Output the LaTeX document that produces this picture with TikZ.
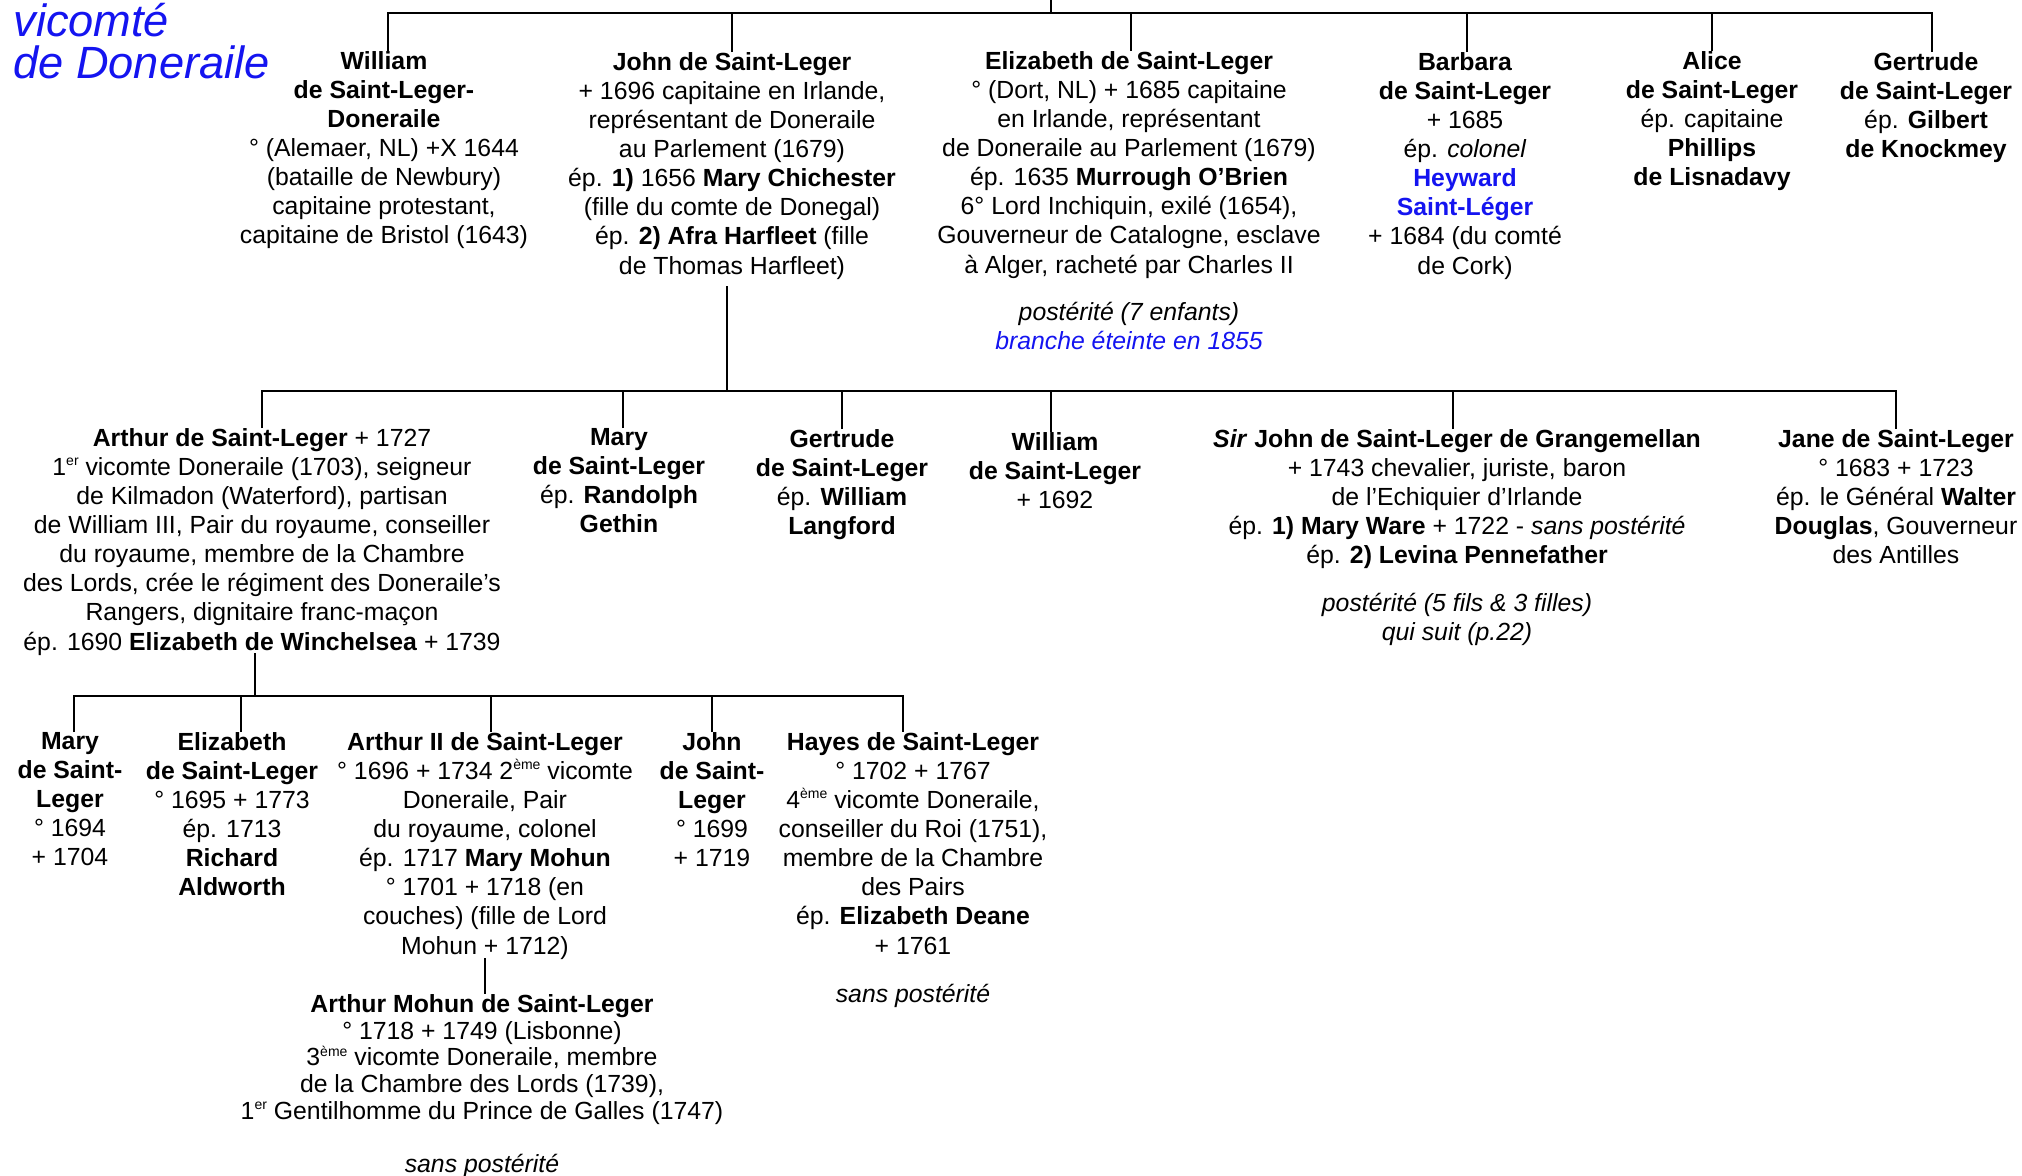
\documentclass[tikz,border=0pt]{standalone}
\usepackage{fontspec}
\setmainfont{Liberation Sans}
\definecolor{tblue}{RGB}{20,20,240}
\newcommand\pfont{\fontsize{12.4pt}{14.55pt}\selectfont}
\newcommand\mfont{\fontsize{12.4pt}{13.4pt}\selectfont}
\newcommand\tfont{\fontsize{22.6pt}{21.5pt}\selectfont\itshape}
\newcommand\sups[1]{\raisebox{0.75ex}{\fontsize{7pt}{7pt}\selectfont #1}}
\begin{document}
\begin{tikzpicture}[x=0.5pt,y=-0.5pt,
  pers/.style={align=center,inner sep=0pt,anchor=north,font=\pfont,execute at begin node=\strut},
  mpers/.style={align=center,inner sep=0pt,anchor=north,font=\mfont,execute at begin node=\strut},
  note/.style={pers,font=\pfont\itshape},
  link/.style={line width=1pt,black},
  ttl/.style={inner sep=0pt,anchor=base west,font=\tfont,text=tblue}]
\useasboundingbox (0,0) rectangle (2022,1175);

% title
\node[ttl] (t1) at (13,36) {vicomté};
\node[ttl] (t2) at (13,78) {de Doneraile};

% ---------- row 1 ----------
\node[pers] (w1) at (384,51) {\textbf{William}\\\textbf{de Saint-Leger-}\\\textbf{Doneraile}\\° (Alemaer, NL) +X 1644\\(bataille de Newbury)\\capitaine protestant,\\capitaine de Bristol (1643)};
\node[pers] (j1) at (732,52) {\textbf{John de Saint-Leger}\\+ 1696 capitaine en Irlande,\\représentant de Doneraile\\au Parlement (1679)\\ép. \textbf{1)} 1656 \textbf{Mary Chichester}\\(fille du comte de Donegal)\\ép. \textbf{2) Afra Harfleet} (fille\\de Thomas Harfleet)};
\node[pers] (e1) at (1129,51) {\textbf{Elizabeth de Saint-Leger}\\° (Dort, NL) + 1685 capitaine\\en Irlande, représentant\\de Doneraile au Parlement (1679)\\ép. 1635 \textbf{Murrough O’Brien}\\6° Lord Inchiquin, exilé (1654),\\Gouverneur de Catalogne, esclave\\à Alger, racheté par Charles II};
\node[note] (e1n) at (1129,302) {postérité (7 enfants)\\\textcolor{tblue}{branche éteinte en 1855}};
\node[pers] (bb1) at (1465,52) {\textbf{Barbara}\\\textbf{de Saint-Leger}\\+ 1685\\ép. \textit{colonel}\\\textcolor{tblue}{\textbf{Heyward}}\\\textcolor{tblue}{\textbf{Saint-Léger}}\\+ 1684 (du comté\\de Cork)};
\node[pers] (a1) at (1712,51) {\textbf{Alice}\\\textbf{de Saint-Leger}\\ép. capitaine\\\textbf{Phillips}\\\textbf{de Lisnadavy}};
\node[pers] (g1) at (1926,52) {\textbf{Gertrude}\\\textbf{de Saint-Leger}\\ép. \textbf{Gilbert}\\\textbf{de Knockmey}};

\coordinate (bar1) at (0,13);
\coordinate (topc) at (1051,0);
\draw[link] (topc) -- (topc |- bar1);
\draw[link] ([xshift=2pt]w1.north) -- ([xshift=2pt]w1.north |- bar1) -- ([xshift=3pt]g1.north |- bar1) -- ([xshift=3pt]g1.north);
\draw[link] (j1.north) -- (j1.north |- bar1);
\draw[link] ([xshift=1pt]e1.north) -- ([xshift=1pt]e1.north |- bar1);
\draw[link] ([xshift=1pt]bb1.north) -- ([xshift=1pt]bb1.north |- bar1);
\draw[link] (a1.north) -- (a1.north |- bar1);

% ---------- row 2 ----------
\node[pers] (ar2) at (262,428) {\textbf{Arthur de Saint-Leger} + 1727\\1\sups{er} vicomte Doneraile (1703), seigneur\\de Kilmadon (Waterford), partisan\\de William III, Pair du royaume, conseiller\\du royaume, membre de la Chambre\\des Lords, crée le régiment des Doneraile’s\\Rangers, dignitaire franc-maçon\\ép. 1690 \textbf{Elizabeth de Winchelsea} + 1739};
\node[pers] (m2) at (619,428) {\textbf{Mary}\\\textbf{de Saint-Leger}\\ép. \textbf{Randolph}\\\textbf{Gethin}};
\node[pers] (g2) at (842,429) {\textbf{Gertrude}\\\textbf{de Saint-Leger}\\ép. \textbf{William}\\\textbf{Langford}};
\node[pers] (w2) at (1055,432) {\textbf{William}\\\textbf{de Saint-Leger}\\+ 1692};
\node[pers] (s2) at (1457,429) {\textbf{\textit{Sir} John de Saint-Leger de Grangemellan}\\+ 1743 chevalier, juriste, baron\\de l’Echiquier d’Irlande\\ép. \textbf{1) Mary Ware} + 1722 - \textit{sans postérité}\\ép. \textbf{2) Levina Pennefather}};
\node[note] (s2n) at (1457,593) {postérité (5 fils \& 3 filles)\\qui suit (p.22)};
\node[pers] (ja2) at (1896,429) {\textbf{Jane de Saint-Leger}\\° 1683 + 1723\\ép. le Général \textbf{Walter}\\\textbf{Douglas}, Gouverneur\\des Antilles};

\coordinate (bar2) at (0,391);
\coordinate (jd) at (727,286);
\draw[link] (jd) -- (jd |- bar2);
\draw[link] (ar2.north) -- (ar2.north |- bar2) -- (ja2.north |- bar2) -- (ja2.north);
\draw[link] ([xshift=2pt]m2.north) -- ([xshift=2pt]m2.north |- bar2);
\draw[link] (g2.north) -- (g2.north |- bar2);
\draw[link] ([xshift=-2pt]w2.north) -- ([xshift=-2pt]w2.north |- bar2);
\draw[link] ([xshift=-2pt]s2.north) -- ([xshift=-2pt]s2.north |- bar2);

% ---------- row 3 ----------
\node[pers] (m3) at (70,732) {\textbf{Mary}\\\textbf{de Saint-}\\\textbf{Leger}\\° 1694\\+ 1704};
\node[pers] (e3) at (232,732) {\textbf{Elizabeth}\\\textbf{de Saint-Leger}\\° 1695 + 1773\\ép. 1713\\\textbf{Richard}\\\textbf{Aldworth}};
\node[pers] (a3) at (485,732) {\textbf{Arthur II de Saint-Leger}\\° 1696 + 1734 2\sups{ème} vicomte\\Doneraile, Pair\\du royaume, colonel\\ép. 1717 \textbf{Mary Mohun}\\° 1701 + 1718 (en\\couches) (fille de Lord\\Mohun + 1712)};
\node[pers] (jo3) at (712,732) {\textbf{John}\\\textbf{de Saint-}\\\textbf{Leger}\\° 1699\\+ 1719};
\node[pers] (h3) at (913,732) {\textbf{Hayes de Saint-Leger}\\° 1702 + 1767\\4\sups{ème} vicomte Doneraile,\\conseiller du Roi (1751),\\membre de la Chambre\\des Pairs\\ép. \textbf{Elizabeth Deane}\\+ 1761};
\node[note] (h3n) at (913,982) {sans postérité};

\coordinate (bar3) at (0,696);
\coordinate (ad) at (255,653);
\draw[link] (ad) -- (ad |- bar3);
\draw[link] ([xshift=1.75pt]m3.north) -- ([xshift=1.75pt]m3.north |- bar3) -- ([xshift=-5pt]h3.north |- bar3) -- ([xshift=-5pt]h3.north);
\draw[link] ([xshift=4.5pt]e3.north) -- ([xshift=4.5pt]e3.north |- bar3);
\draw[link] ([xshift=3pt]a3.north) -- ([xshift=3pt]a3.north |- bar3);
\draw[link] (jo3.north) -- (jo3.north |- bar3);

% ---------- row 4 ----------
\node[mpers] (am4) at (482,994) {\textbf{Arthur Mohun de Saint-Leger}\\° 1718 + 1749 (Lisbonne)\\3\sups{ème} vicomte Doneraile, membre\\de la Chambre des Lords (1739),\\1\sups{er} Gentilhomme du Prince de Galles (1747)};
\node[note] (am4n) at (482,1152) {sans postérité};
\coordinate (a2d) at (485,958);
\draw[link] (a2d) -- (a2d |- am4.north);
\end{tikzpicture}
\end{document}
